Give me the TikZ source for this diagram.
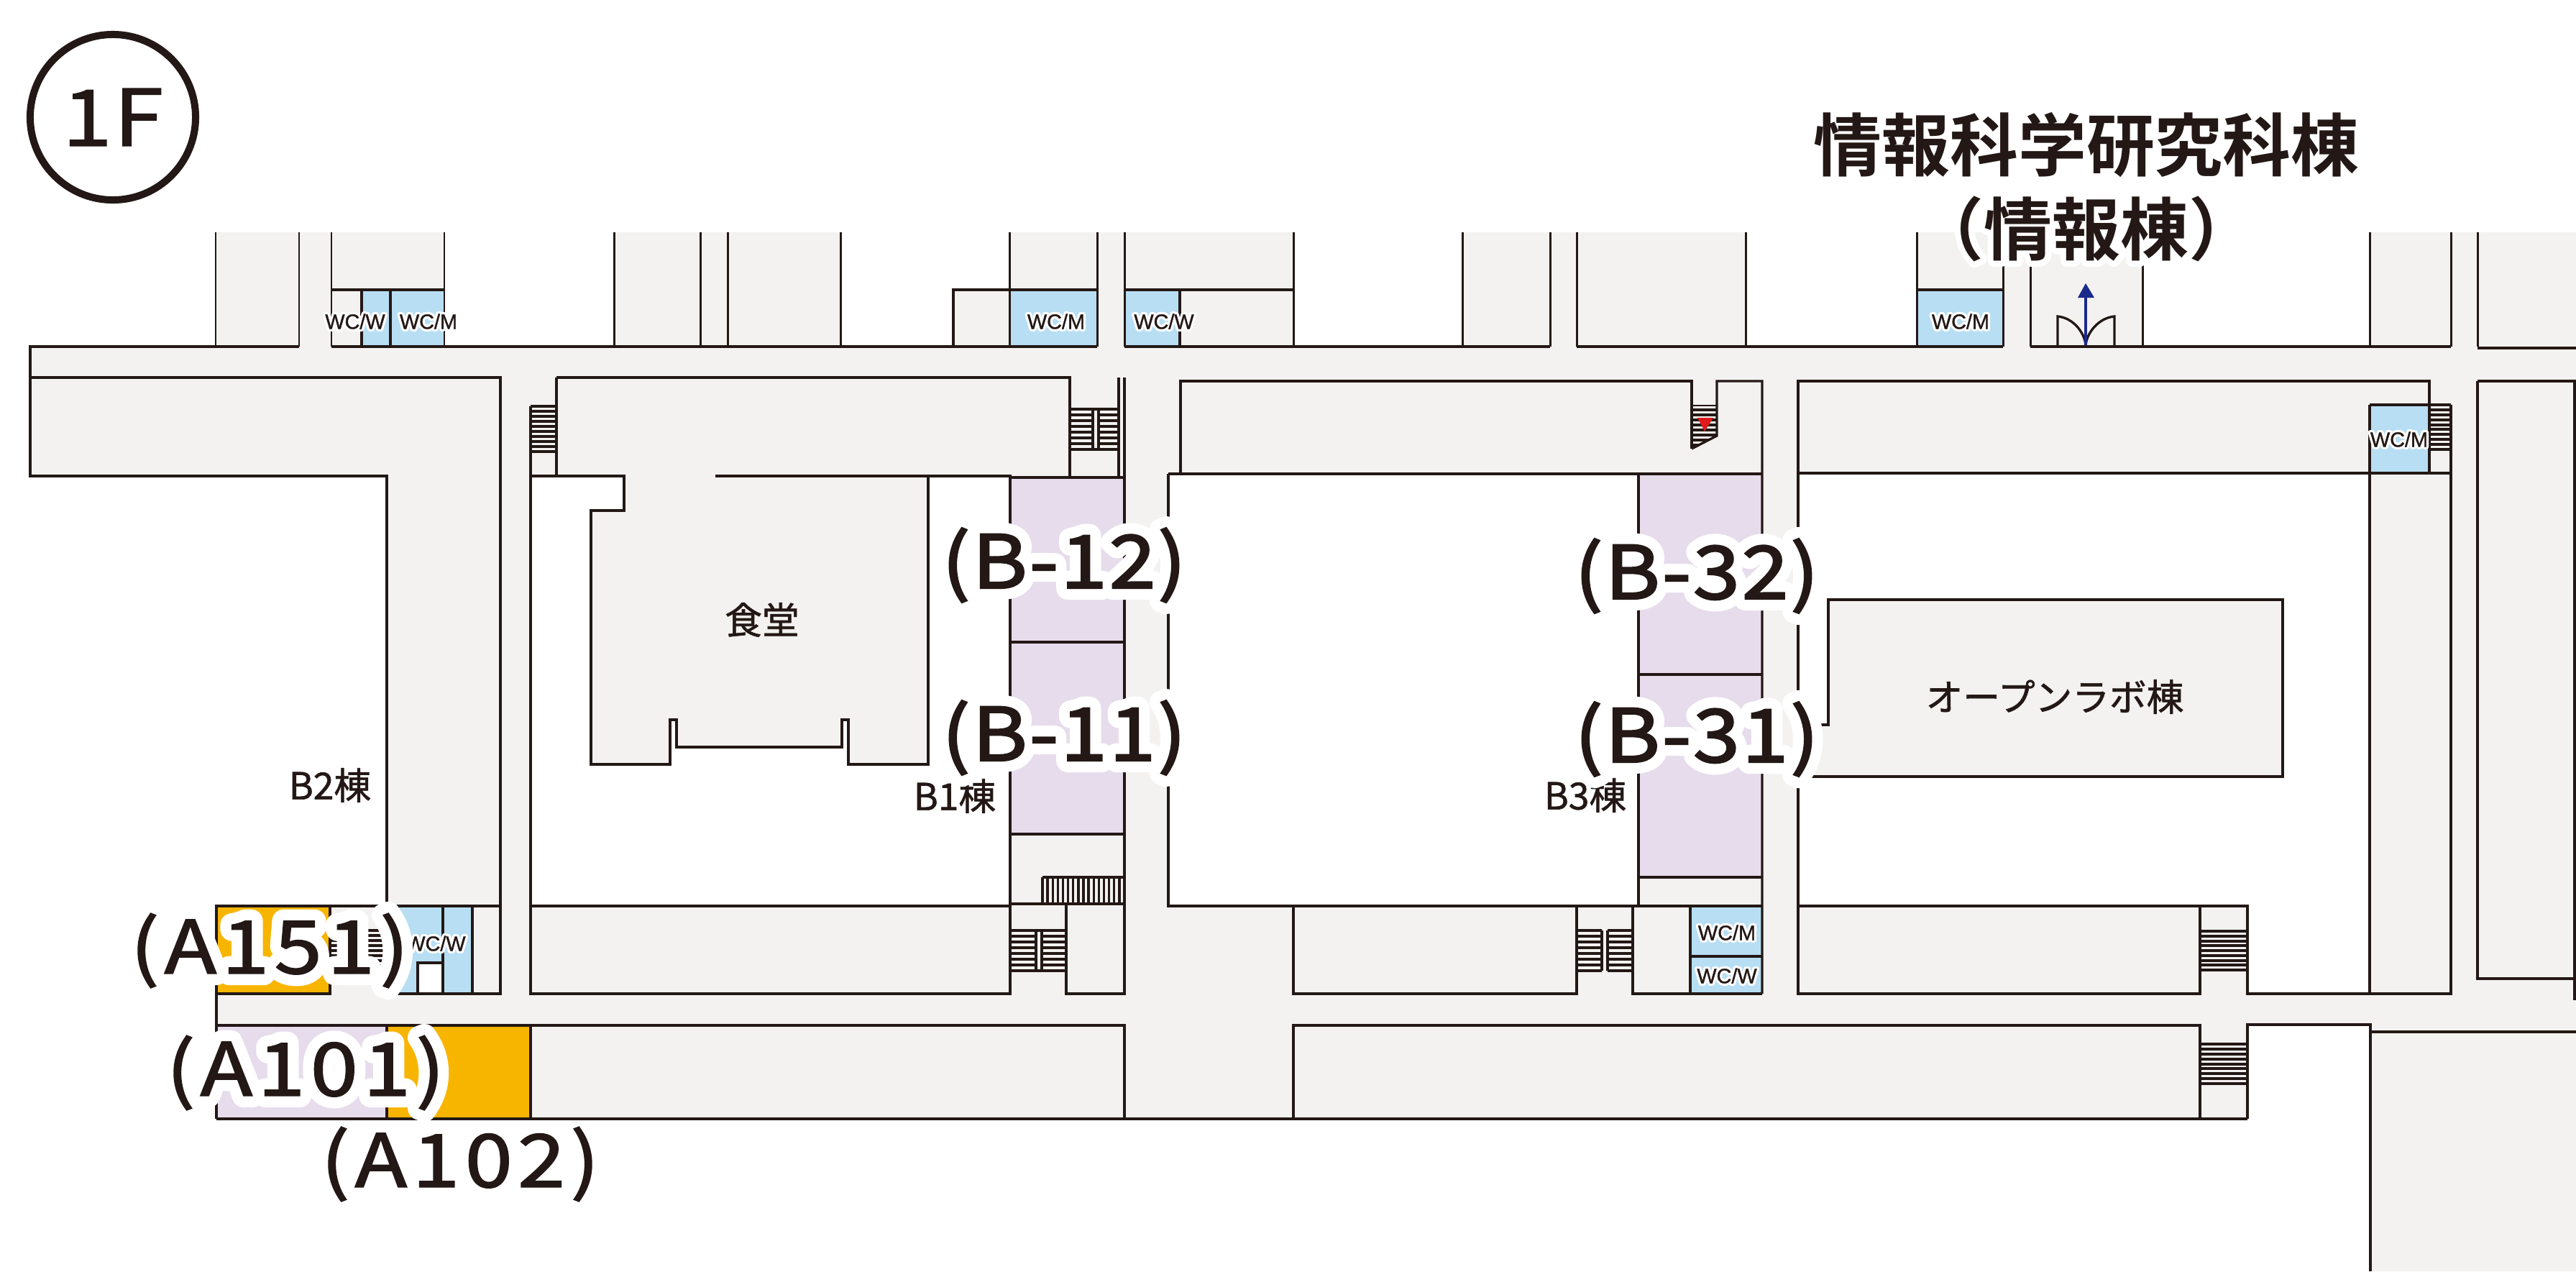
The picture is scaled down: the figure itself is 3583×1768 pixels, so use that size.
\documentclass[tikz,border=0pt]{standalone}
\usepackage{fontspec}
\setmainfont{Liberation Sans}
\newfontfamily\jpfont[FakeBold=1.2]{Noto Sans CJK JP}
\newfontfamily\jpbadge[FakeBold=1.2,FakeStretch=1.15,LetterSpace=2]{Noto Sans CJK JP}
\newfontfamily\jptitle{Noto Sans CJK JP Bold}
\newfontfamily\jpBink[FakeBold=2.6,FakeStretch=1.14,LetterSpace=3]{Noto Sans CJK JP}
\newfontfamily\jpBhalo[FakeBold=32,FakeStretch=1.14,LetterSpace=3]{Noto Sans CJK JP}
\newfontfamily\jpAink[FakeBold=1.8,FakeStretch=1.17,LetterSpace=7]{Noto Sans CJK JP}
\newfontfamily\jpAhalo[FakeBold=32,FakeStretch=1.17,LetterSpace=7]{Noto Sans CJK JP}
\newfontfamily\jphaloTitle[FakeBold=18]{Noto Sans CJK JP Bold}
\newfontfamily\wcink[FakeBold=1.2]{Liberation Sans}
\newfontfamily\wchalo[FakeBold=24]{Liberation Sans}
\newcommand{\roundstroke}{\special{pdf:code 1 j 1 J}}
\definecolor{ink}{HTML}{231815}
\definecolor{floorgray}{HTML}{F3F2F0}
\definecolor{wcblue}{HTML}{B8DEF3}
\definecolor{roompurple}{HTML}{E6DCEC}
\definecolor{roomorange}{HTML}{F8B500}
\definecolor{arrowblue}{HTML}{1A2A8C}
\definecolor{markred}{HTML}{E01A1A}
\tikzset{
  wall/.style={draw=ink,line width=0.95pt,line cap=butt,line join=miter},
  gray fill/.style={fill=floorgray},
  void/.style={fill=white},
  Blabel/.style={text=ink,inner sep=0pt,font=\jpBink\fontsize{29}{29}\selectfont},
  Bhalo/.style={text=white,inner sep=0pt,font=\jpBhalo\fontsize{29}{29}\selectfont},
  Alabel/.style={text=ink,inner sep=0pt,font=\jpAink\fontsize{29}{29}\selectfont},
  Ahalo/.style={text=white,inner sep=0pt,font=\jpAhalo\fontsize{29}{29}\selectfont},
  wclabel/.style={text=ink,inner sep=0pt,font=\wcink\fontsize{8.2}{8.2}\selectfont},
  wchalolabel/.style={text=white,inner sep=0pt,font=\wchalo\fontsize{8.2}{8.2}\selectfont},
  midlabel/.style={text=ink,inner sep=0pt,font=\jpfont\fontsize{14.7}{15}\selectfont},
  titlelabel/.style={text=ink,inner sep=0pt,font=\jptitle\fontsize{27}{27}\selectfont},
  titlehalo/.style={text=white,inner sep=0pt,font=\jphaloTitle\fontsize{27}{27}\selectfont},
}
\newcommand{\hstair}[5]{% x1 y1 x2 y2 n
  \foreach \i in {0,...,#5}{
    \pgfmathsetmacro{\yy}{#2+(#4-#2)*\i/#5}
    \draw[draw=ink,line width=1.15pt] (#1,\yy) -- (#3,\yy);
  }}
\newcommand{\vstair}[5]{%
  \foreach \i in {0,...,#5}{
    \pgfmathsetmacro{\xx}{#1+(#3-#1)*\i/#5}
    \draw[draw=ink,line width=0.95pt] (\xx,#2) -- (\xx,#4);
  }}
\newcommand{\btext}[4]{% name x y text
  \node[Bhalo] (#1h) at (#2,#3) {\roundstroke #4};
  \node[Blabel] (#1) at (#2,#3) {#4};}
\newcommand{\atext}[4]{%
  \node[Ahalo] (#1h) at (#2,#3) {\roundstroke #4};
  \node[Alabel] (#1) at (#2,#3) {#4};}
\newcommand{\wctext}[4]{%
  \node[wchalolabel] (#1h) at (#2,#3) {\roundstroke #4};
  \node[wclabel] (#1) at (#2,#3) {#4};}
\begin{document}
\begin{tikzpicture}[x=0.01cm,y=-0.01cm]
\useasboundingbox (0,0) rectangle (3583,1768);
\fill[white] (0,0) rectangle (3583,1768);
% grey base
\fill[gray fill] (42,323) rectangle (3583,1556);
\fill[gray fill] (3297,1425) rectangle (3583,1768);
% voids
\fill[void] (0,0) rectangle (3583,323);
\fill[void] (42,323) rectangle (300,482);
\fill[void] (618,323) rectangle (854,482);
\fill[void] (1169,323) rectangle (1326,482);
\fill[void] (1326,323) rectangle (1404,403);
\fill[void] (1799,323) rectangle (2034,482);
\fill[void] (2428,323) rectangle (2666,482);
\fill[void] (2980,323) rectangle (3296,482);
\fill[void] (42,662) rectangle (538,1260);
\fill[void] (42,1260) rectangle (301,1556);
\fill[void] (738,662) -- (868,662) -- (868,710) -- (822,710) -- (822,1063) -- (932,1063) -- (932,1001) -- (941,1001) -- (941,1039) -- (1171,1039) -- (1171,1001) -- (1180,1001) -- (1180,1063) -- (1291,1063) -- (1291,662) -- (1405,662) -- (1405,1260) -- (738,1260) -- cycle;
\fill[void] (1625,659) rectangle (2279,1260);
\fill[void] (2501,659) -- (3296,659) -- (3296,1382) -- (3126,1382) -- (3126,1260) -- (2501,1260) -- cycle;
\fill[gray fill] (2543,834) -- (3175,834) -- (3175,1080) -- (2501,1080) -- (2501,1008) -- (2543,1008) -- cycle;
\fill[void] (0,1556) rectangle (3297,1768);
\fill[void] (3126,1425) rectangle (3297,1556);
\fill[void] (3581,530) rectangle (3583,1391);
% colour rooms
\fill[wcblue] (503,403) rectangle (618,482);
\fill[wcblue] (1404,403) rectangle (1526,482);
\fill[wcblue] (1564,403) rectangle (1641,482);
\fill[wcblue] (2666,403) rectangle (2786,482);
\fill[wcblue] (3296,563) rectangle (3379,658);
\fill[wcblue] (538,1260) rectangle (657,1382);
\fill[void] (581,1339) rectangle (616,1382);
\fill[wcblue] (2351,1260) rectangle (2451,1382);
\fill[roompurple] (1405,664) rectangle (1564,1160);
\fill[roompurple] (2279,659) rectangle (2451,1220);
\fill[roompurple] (301,1426) rectangle (538,1556);
\fill[roomorange] (538,1426) rectangle (738,1556);
\fill[roomorange] (301,1260) rectangle (459,1382);
% stairs
\hstair{738}{565}{774}{628}{9}
\hstair{1488}{569}{1520}{625}{7}
\hstair{1528}{569}{1556}{625}{7}
\draw[wall] (1520,569) -- (1520,625) (1528,569) -- (1528,625);
\begin{scope}
\clip (2353,563) -- (2388,563) -- (2388,606) -- (2353,624) -- cycle;
\hstair{2353}{563}{2388}{626}{9}
\end{scope}
\hstair{3379}{563}{3409}{625}{9}
\hstair{461}{1294}{536}{1350}{8}
\hstair{1405}{1294}{1441}{1350}{7}
\hstair{1449}{1294}{1483}{1350}{7}
\draw[wall] (1441,1294) -- (1441,1350) (1449,1294) -- (1449,1350);
\hstair{2193}{1294}{2228}{1350}{7}
\hstair{2236}{1294}{2271}{1350}{7}
\draw[wall] (2228,1294) -- (2228,1350) (2236,1294) -- (2236,1350);
\hstair{3060}{1295}{3126}{1349}{8}
\hstair{3060}{1452}{3126}{1507}{8}
\vstair{1450}{1220}{1564}{1257}{16}
\draw[wall] (1450,1220) -- (1564,1220);
% red marker
\fill[markred] (2361,581) -- (2383,581) -- (2371,600) -- cycle;
% door and arrow
\draw[wall] (2862,482) -- (2862,440) .. controls (2885,442) and (2901,465) .. (2901,482);
\draw[wall] (2941,482) -- (2941,440) .. controls (2918,442) and (2901,465) .. (2901,482);
\coordinate (doorbase) at (2901,482);
\coordinate (doorgoal) at (2901,414);
\draw[arrowblue,line width=1.2pt] (doorbase) -- (doorgoal);
\fill[arrowblue] (2901,394) -- (2913,414) -- (2890,414) -- cycle;
% top walls
\draw[wall] (42,525) -- (42,482) -- (416,482);
\draw[wall] (461,482) -- (1526,482);
\draw[wall] (1564,482) -- (2156,482);
\draw[wall] (2193,482) -- (2786,482);
\draw[wall] (2824,482) -- (3409,482);
\draw[wall] (3446,484) -- (3583,484);
\foreach \x in {300,416,461,618,854,974,1012,1169,1404,1526,1564,1799,2034,2156,2193,2428,2666,2786,2824,2980,3296,3409,3446}
  \draw[wall,line width=0.85pt] (\x,323) -- (\x,482);
\draw[wall] (461,403) -- (618,403);
\draw[wall] (1326,482) -- (1326,403) -- (1526,403);
\draw[wall] (1564,403) -- (1799,403);
\draw[wall] (2666,403) -- (2786,403);
\draw[wall] (503,403) -- (503,482) (543,403) -- (543,482) (1641,403) -- (1641,482);
% L-shaped building B2
\draw[wall] (42,525) -- (696,525) -- (696,1260);
\draw[wall] (42,525) -- (42,662) -- (538,662) -- (538,1382);
% B1 and canteen
\draw[wall] (774,525) -- (1488,525) -- (1488,664);
\draw[wall] (774,525) -- (774,662);
\draw[wall] (738,565) -- (738,1260);
\draw[wall] (738,662) -- (868,662) -- (868,710) -- (822,710) -- (822,1063) -- (932,1063) -- (932,1001) -- (941,1001) -- (941,1039) -- (1171,1039) -- (1171,1001) -- (1180,1001) -- (1180,1063) -- (1291,1063) -- (1291,662);
\draw[wall] (995,662) -- (1405,662) -- (1405,1382) -- (738,1382) -- (738,1260) -- (1405,1260);
\draw[wall] (1556,525) -- (1556,664);
\draw[wall] (1564,525) -- (1564,1382) -- (1483,1382) -- (1483,1257);
\draw[wall] (1405,664) -- (1564,664);
\draw[wall] (1405,893) -- (1564,893);
\draw[wall] (1405,1160) -- (1564,1160);
\draw[wall] (1405,1257) -- (1564,1257);
\draw[wall] (1488,569) -- (1556,569) (1488,625) -- (1556,625);
\draw[wall] (1405,1294) -- (1483,1294) (1405,1350) -- (1483,1350);
% B3 centre
\draw[wall] (2353,624) -- (2353,530) -- (1642,530) -- (1642,659);
\draw[wall] (2353,624) -- (2388,606) -- (2388,530) -- (2451,530) -- (2451,1382);
\draw[wall] (1625,659) -- (2451,659);
\draw[wall] (1625,659) -- (1625,1260) -- (2279,1260) -- (2279,659);
\draw[wall] (2279,1260) -- (2451,1260);
\draw[wall] (2279,938) -- (2451,938);
\draw[wall] (2279,1220) -- (2451,1220);
\draw[wall] (1799,1260) -- (1799,1382) -- (2193,1382) -- (2193,1260);
\draw[wall] (2271,1260) -- (2271,1382) -- (2451,1382);
\draw[wall] (2351,1260) -- (2351,1382);
\draw[wall] (2351,1330) -- (2451,1330);
% right building
\draw[wall] (2501,659) -- (2501,530) -- (3379,530) -- (3379,563);
\draw[wall] (2501,658) -- (3409,658);
\draw[wall] (3296,563) -- (3409,563);
\draw[wall] (3379,563) -- (3379,658);
\draw[wall] (3296,563) -- (3296,1382);
\draw[wall] (3409,563) -- (3409,1382) -- (3126,1382) -- (3126,1260) -- (2501,1260) -- (2501,1382) -- (3060,1382) -- (3060,1260);
\draw[wall] (2501,658) -- (2501,1008) -- (2543,1008) -- (2543,834) -- (3175,834) -- (3175,1080) -- (2501,1080) -- (2501,1260);
% far right
\draw[wall] (3446,530) -- (3583,530);
\draw[wall] (3446,530) -- (3446,1361) -- (3581,1361);
\draw[wall] (3581,530) -- (3581,1391);
\draw[wall] (3126,1556) -- (3126,1425) -- (3297,1425) -- (3297,1768);
\draw[wall] (3297,1435) -- (3583,1435);
% A building
\draw[wall] (696,1260) -- (301,1260) -- (301,1556);
\draw[wall] (301,1382) -- (459,1382) -- (459,1260);
\draw[wall] (538,1382) -- (696,1382) -- (696,1260);
\draw[wall] (616,1260) -- (616,1382);
\draw[wall] (657,1260) -- (657,1382);
\draw[wall] (581,1382) -- (581,1339) -- (616,1339);
\draw[wall] (301,1426) -- (1564,1426) -- (1564,1556);
\draw[wall] (1799,1556) -- (1799,1426) -- (3060,1426) -- (3060,1556);
\draw[wall] (301,1556) -- (3126,1556);
\draw[wall] (538,1426) -- (538,1556);
\draw[wall] (738,1426) -- (738,1556);
% 1F badge
\node[circle,draw=ink,line width=2.85pt,minimum size=2.3cm,inner sep=0pt,text=ink,font=\jpbadge\fontsize{31}{31}\selectfont] (floorbadge) at (157,163) {1F};
% title
\node[titlelabel] (titleA) at (2902,201) {情報科学研究科棟};
\node[titlehalo] (titleBh) at (2902,318) {\roundstroke （情報棟）};
\node[titlelabel] (titleB) at (2902,318) {（情報棟）};
% mid labels
\node[midlabel] (canteen) at (1060,862) {食堂};
\node[midlabel] (openlab) at (2858,969) {オープンラボ棟};
\node[midlabel] (bOne) at (1328,1107) {B1棟};
\node[midlabel] (bTwo) at (459,1092) {B2棟};
\node[midlabel] (bThree) at (2205,1106) {B3棟};
% WC
\wctext{wcA}{494}{447}{WC/W}
\wctext{wcB}{596}{447}{WC/M}
\wctext{wcC}{1469}{447}{WC/M}
\wctext{wcD}{1619}{447}{WC/W}
\wctext{wcE}{2727}{447}{WC/M}
\wctext{wcF}{3337}{611}{WC/M}
\wctext{wcG}{606}{1312}{WC/W}
\wctext{wcH}{2402}{1297}{WC/M}
\wctext{wcI}{2402}{1357}{WC/W}
% rooms
\btext{rBa}{1480}{786}{(B-12)}
\btext{rBb}{1480}{1026}{(B-11)}
\btext{rBc}{2360}{801}{(B-32)}
\btext{rBd}{2360}{1028}{(B-31)}
\atext{rAa}{375}{1322}{(A151)}
\atext{rAb}{425}{1492}{(A101)}
\node[Alabel] (rAc) at (640,1619) {(A102)};
\end{tikzpicture}
\end{document}
